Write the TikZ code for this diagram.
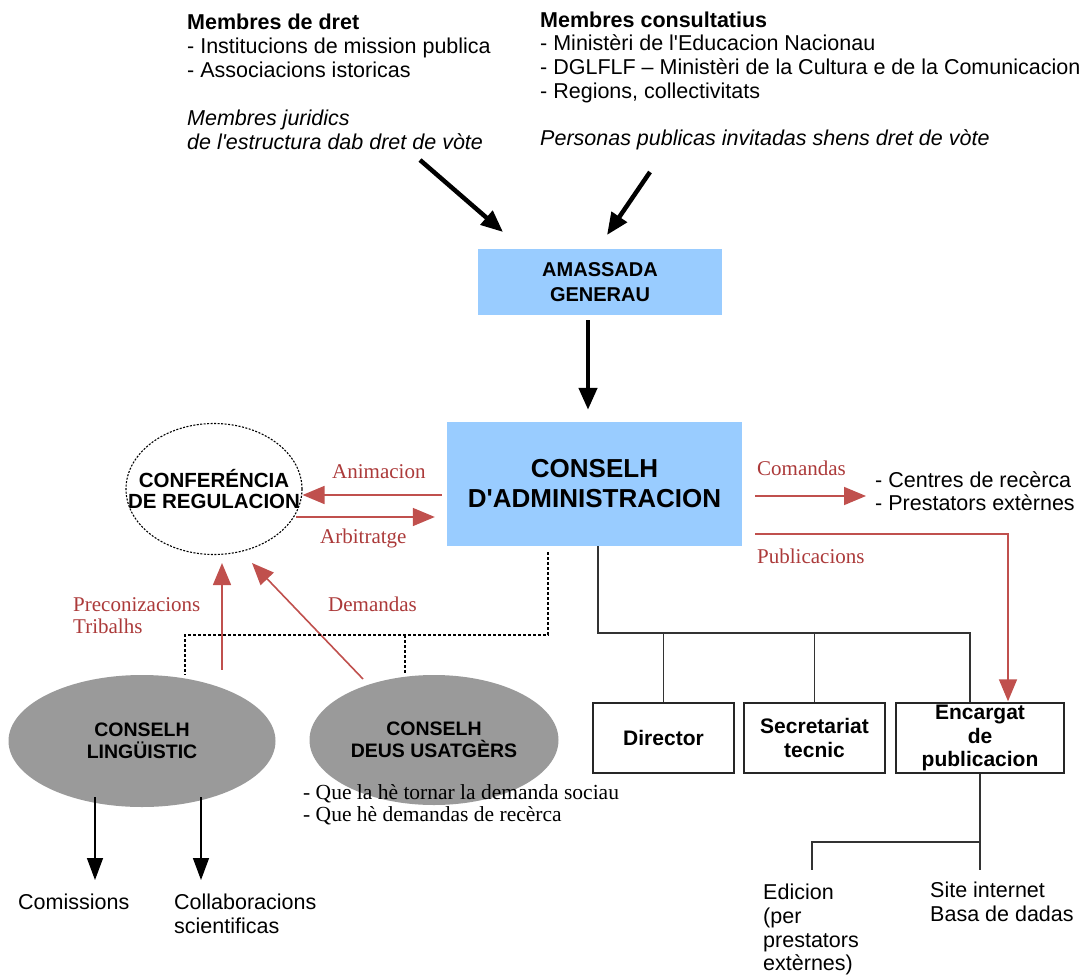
\documentclass[tikz,border=0pt]{standalone}
\usepackage{fontspec}
\setmainfont{Liberation Sans}
\newfontfamily\serifrm{Liberation Serif}
\usetikzlibrary{arrows.meta,shapes.geometric}
\newcommand\sq{\XeTeXglyph\XeTeXcharglyph"27\relax}
\definecolor{boxblue}{HTML}{99CCFF}
\definecolor{ellgray}{HTML}{9A9A9A}
\definecolor{arrred}{RGB}{192,80,77}
\definecolor{txtred}{RGB}{172,58,58}
\tikzset{
  bigarrow/.style={line width=4.5pt,-{Triangle[length=22pt,width=18pt]}},
  thinarrow/.style={line width=1.4pt,-{Triangle[length=22pt,width=16pt]}},
  redarrow/.style={draw=arrred,line width=1.6pt,-{Triangle[length=22pt,width=18pt]}},
  treeline/.style={draw=black!80,line width=1.4pt},
  dashline/.style={line width=1.1pt,dash pattern=on 3pt off 2pt},
  bluebox/.style={fill=boxblue,draw=none,align=center,inner sep=0},
  whitebox/.style={draw=black!85,line width=1.4pt,align=center,inner sep=0,
    minimum width=141pt,minimum height=70pt,font=\bfseries\fontsize{21}{23.5}\selectfont},
  grayell/.style={ellipse,fill=ellgray,draw=none,inner sep=0,align=center,
    font=\bfseries\fontsize{19.5}{22}\selectfont},
  bodytext/.style={font=\fontsize{21.5}{24}\selectfont,align=left,inner sep=0},
  redlbl/.style={font=\serifrm\fontsize{21}{22}\selectfont,text=txtred,inner sep=0,align=left}
}
\begin{document}
\begin{tikzpicture}[x=1pt,y=-1pt]
\useasboundingbox[fill=white] (0,0) rectangle (1089,976);

% top texts
\node[bodytext,anchor=north west] (mdret) at (187,13.5)
  {\textbf{Membres de dret}\\- Institucions de mission publica\\- Associacions istoricas\\[24pt]
   \textit{Membres juridics}\\\textit{de l\sq estructura dab dret de vòte}};
\node[bodytext,anchor=north west,font=\fontsize{21.5}{23.7}\selectfont] (mcons) at (540,11.5)
  {\textbf{Membres consultatius}\\- Ministèri de l\sq Educacion Nacionau\\- DGLFLF – Ministèri de la Cultura e de la Comunicacion\\- Regions, collectivitats\\[23.7pt]
   \textit{Personas publicas invitadas shens dret de vòte}};

% main boxes
\node[bluebox,minimum width=244pt,minimum height=66pt,font=\bfseries\fontsize{20}{25}\selectfont] (amassada) at (600,282) {AMASSADA\\GENERAU};
\node[bluebox,minimum width=295pt,minimum height=124pt,font=\bfseries\fontsize{26}{30}\selectfont] (cda) at (594.5,484) {CONSELH\\D\sq ADMINISTRACION};

\node[ellipse,draw,line width=1.1pt,dash pattern=on 2pt off 1.5pt,minimum width=176pt,minimum height=131pt,inner sep=0,
  label={[font=\bfseries\fontsize{20.5}{21.5}\selectfont,align=center,inner sep=0]center:CONFERÉNCIA\\DE REGULACION}] (conf) at (214,489) {};

\node[grayell,minimum width=267pt,minimum height=132pt] (lingu) at (142,741) {CONSELH\\LINGÜISTIC};
\node[grayell,minimum width=249pt,minimum height=130pt] (usat) at (434,740) {CONSELH\\DEUS USATGÈRS};

\node[whitebox] (director) at (663.5,738) {Director};
\node[whitebox] (secret) at (814.5,738) {Secretariat\\tecnic};
\node[whitebox,minimum width=168pt] (encargat) at (980,738) {Encargat\\de\\publicacion};

% other texts
\node[bodytext,anchor=north west,font=\fontsize{21.5}{23}\selectfont] (centres) at (875,471) {- Centres de recèrca\\- Prestators extèrnes};
\node[bodytext,anchor=base west] (comissions) at (18,909) {Comissions};
\node[bodytext,anchor=north west,font=\fontsize{21.5}{24.5}\selectfont] (collab) at (174,893.5) {Collaboracions\\scientificas};
\node[bodytext,anchor=north west,font=\fontsize{21.5}{23.7}\selectfont] (edicion) at (763,884) {Edicion\\(per\\prestators\\extèrnes)};
\node[bodytext,anchor=north west] (site) at (930,882) {Site internet\\Basa de dadas};
\node[anchor=north west,inner sep=0,align=left,font=\serifrm\fontsize{21.5}{22}\selectfont] (quelahe) at (303,784.3)
  {- Que la hè tornar la demanda sociau\\- Que hè demandas de recèrca};

% red labels
\node[redlbl,anchor=base west] (lanim) at (332,478.6) {Animacion};
\node[redlbl,anchor=base west] (larb) at (320,543.6) {Arbitratge};
\node[redlbl,anchor=north west] (lprec) at (73,597.4) {Preconizacions\\Tribalhs};
\node[redlbl,anchor=base west] (ldem) at (328,611.6) {Demandas};
\node[redlbl,anchor=base west] (lcom) at (757,475.6) {Comandas};
\node[redlbl,anchor=base west] (lpub) at (757,563.6) {Publicacions};

% coordinates
\coordinate (a1s) at (420,160); \coordinate (a1e) at (503,232);
\coordinate (a2s) at (650,172); \coordinate (a2e) at (607,235);
\coordinate (agx) at (588,0);
\coordinate (animy) at (0,495);
\coordinate (arbs) at (296,517);
\coordinate (prex) at (222,0);
\coordinate (dems) at (363,679); \coordinate (deme) at (252,563);
\coordinate (dsx) at (548,0);
\coordinate (dj1) at (185,635); \coordinate (dj2) at (405,635);
\coordinate (tx0) at (598,0); \coordinate (tj) at (970,633);
\coordinate (comy) at (0,496);
\coordinate (puby) at (0,534); \coordinate (pubx) at (1008,0);
\coordinate (ej) at (980,842); \coordinate (ee1) at (812,870); \coordinate (ee2) at (980,870);
\coordinate (la1s) at (95,797); \coordinate (la1e) at (95,880);
\coordinate (la2s) at (201,797); \coordinate (la2e) at (201,880);

% black arrows
\draw[bigarrow] (a1s) -- (a1e);
\draw[bigarrow] (a2s) -- (a2e);
\draw[bigarrow,shorten <=5pt,shorten >=12pt] (amassada.south -| agx) -- (cda.north -| agx);
\draw[thinarrow] (la1s) -- (la1e);
\draw[thinarrow] (la2s) -- (la2e);

% red arrows
\draw[redarrow,shorten <=5pt] (cda.west |- animy) -- (conf.east |- animy);
\draw[redarrow,shorten >=12pt] (arbs) -- (cda.west |- arbs);
\draw[redarrow,shorten <=5pt,shorten >=8pt] (lingu.north -| prex) -- (conf.south -| prex);
\draw[redarrow] (dems) -- (deme);
\draw[redarrow,shorten <=13pt,shorten >=9pt] (cda.east |- comy) -- (centres.west |- comy);
\draw[redarrow,shorten <=13pt,shorten >=1pt] (cda.east |- puby) -| (encargat.north -| pubx);

% dashed links
\draw[dashline,shorten <=6pt] (cda.south -| dsx) |- (dj1) -- (lingu.north -| dj1);
\draw[dashline] (dj2) -- (usat.north -| dj2);

% tree
\draw[treeline] (cda.south -| tx0) |- (tj) -- (encargat.north -| tj);
\draw[treeline] (director.north) -- (director.north |- tj);
\draw[treeline] (secret.north) -- (secret.north |- tj);
\draw[treeline] (encargat.south) -- (ej) -| (ee1);
\draw[treeline] (ej) -- (ee2);
\end{tikzpicture}
\end{document}
